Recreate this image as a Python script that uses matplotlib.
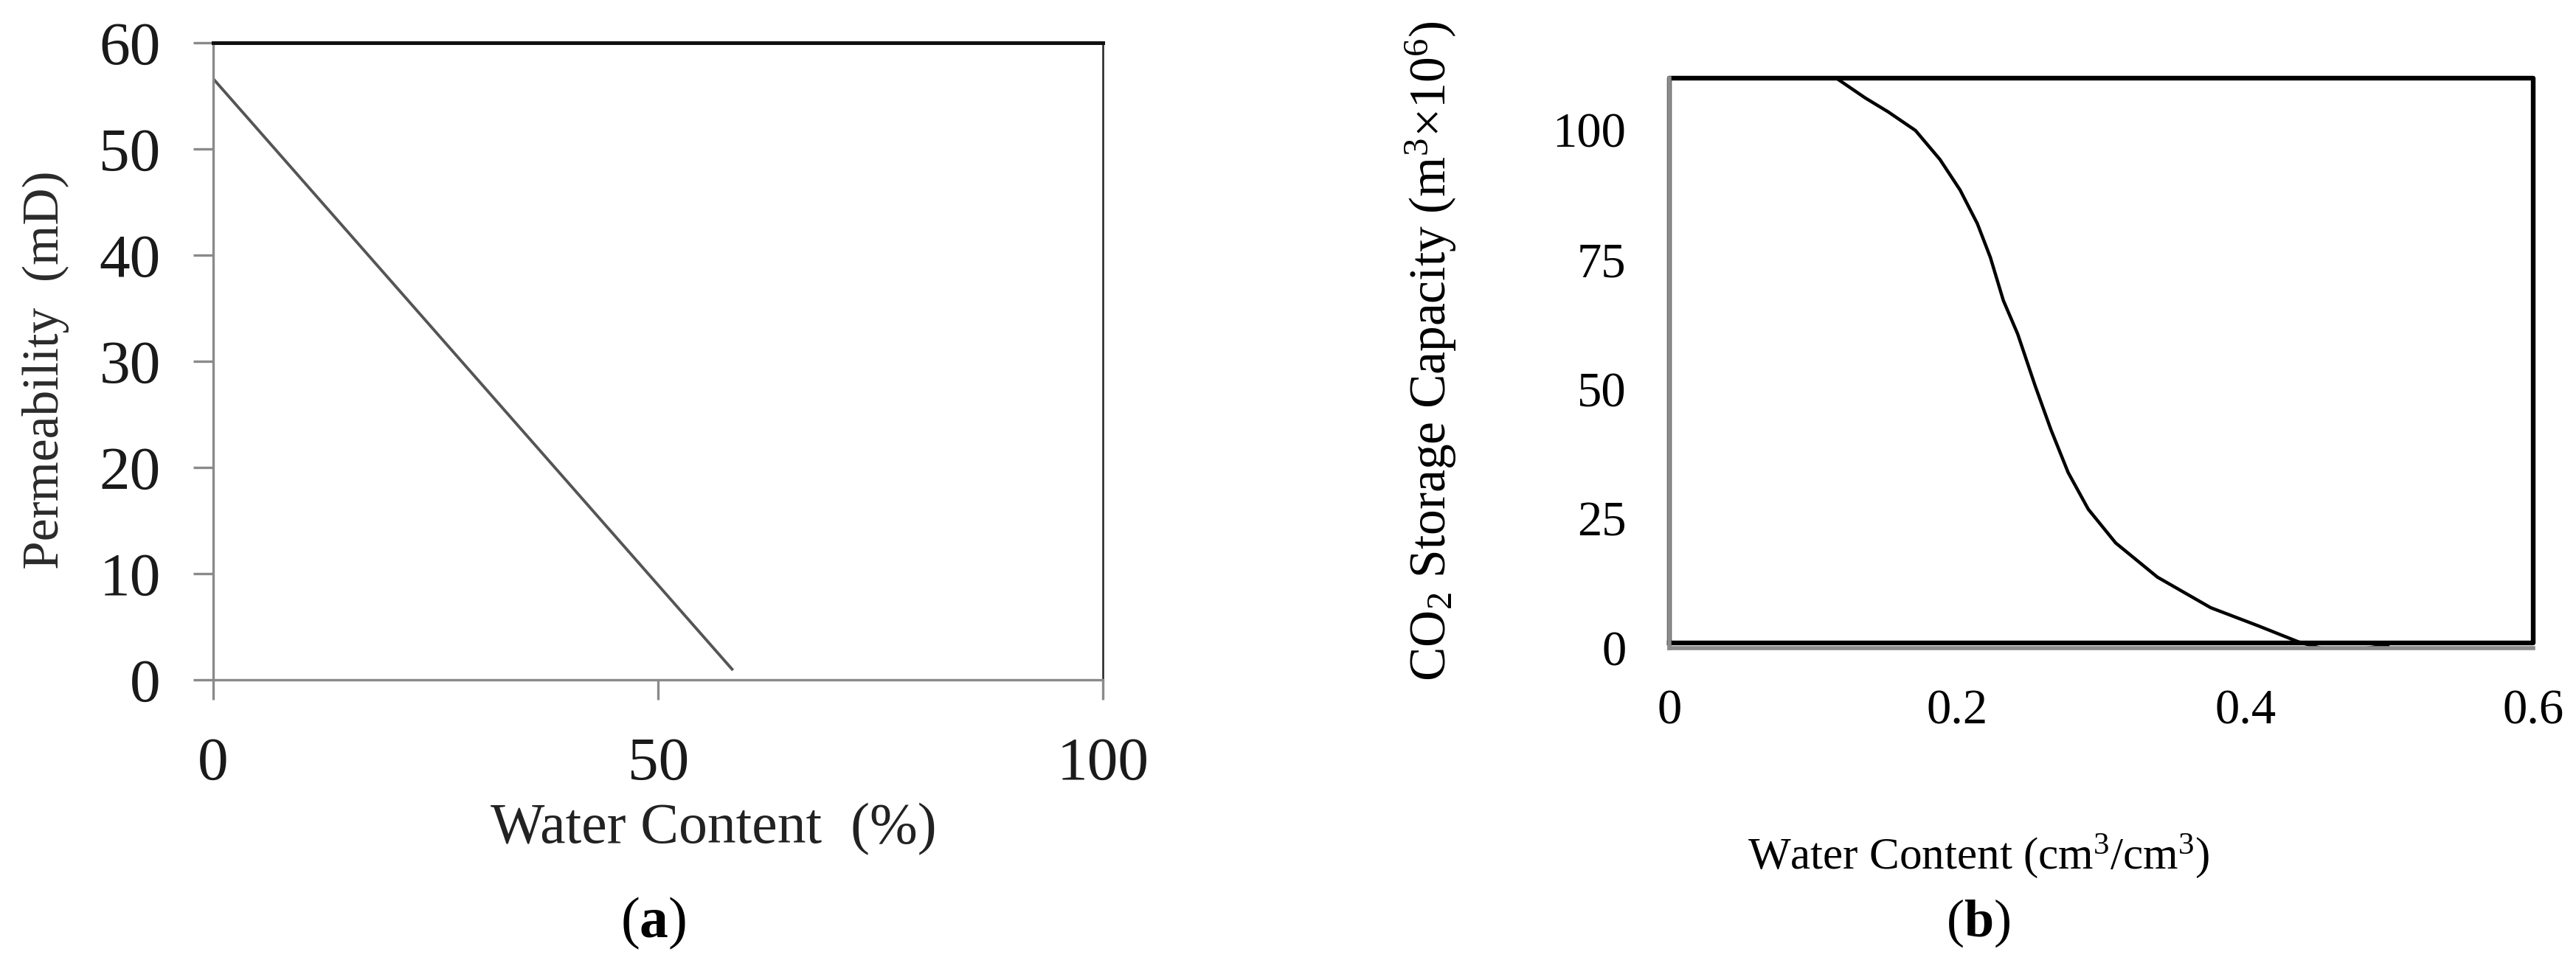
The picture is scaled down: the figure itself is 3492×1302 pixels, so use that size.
import matplotlib.pyplot as plt

plt.rcParams['font.family'] = ['Liberation Serif', 'DejaVu Serif']
plt.rcParams['mathtext.fontset'] = 'custom'
plt.rcParams['mathtext.rm'] = 'Liberation Serif'
plt.rcParams['mathtext.it'] = 'Liberation Serif:italic'
plt.rcParams['mathtext.bf'] = 'Liberation Serif:bold'

# (a) permeability vs water content
perm_x = [0, 58.3]
perm_y = [56.6, 1]
a_xticks = [0, 50, 100]
a_yticks = [0, 10, 20, 30, 40, 50, 60]

# (b) CO2 storage capacity vs water content
co2_x = [0.116, 0.136, 0.152, 0.171, 0.188, 0.202, 0.214, 0.223, 0.232, 0.242,
         0.254, 0.265, 0.277, 0.291, 0.310, 0.339, 0.376, 0.409, 0.437, 0.456,
         0.477, 0.499]
co2_y = [110, 106.2, 103.5, 99.9, 94.3, 88.4, 81.9, 75.4, 67.1, 60.6,
         50.7, 42.2, 33.9, 26.8, 20.3, 13.7, 7.8, 4.3, 1.2, -0.3,
         -0.3, 0.6]
b_xticks = [0, 0.2, 0.4, 0.6]
b_xticklabels = ['0', '0.2', '0.4', '0.6']
b_yticks = [0, 25, 50, 75, 100]

fig = plt.figure(figsize=(17.46, 6.51), dpi=200)

# ---- panel a ----
ax1 = fig.add_axes([0.0828, 0.2919, 0.3454, 0.6636])
ax1.plot(perm_x, perm_y, color='#555555', linewidth=1.4)
ax1.set_xlim(0, 100)
ax1.set_ylim(0, 60)
ax1.set_xticks(a_xticks)
ax1.set_yticks(a_yticks)
for s in ['left', 'bottom']:
    ax1.spines[s].set_color('#8a8a8a')
    ax1.spines[s].set_linewidth(1.2)
ax1.spines['top'].set_color('#111111')
ax1.spines['top'].set_linewidth(1.8)
ax1.spines['right'].set_color('#222222')
ax1.spines['right'].set_linewidth(0.9)
ax1.tick_params(direction='out', length=9.7, width=1.2, color='#8a8a8a',
                labelsize=30, labelcolor='#1a1a1a')
ax1.tick_params(axis='x', pad=18)
ax1.tick_params(axis='y', pad=16)
fig.text(0.0178, 0.615, 'Permeability  (mD)', rotation=90, ha='center',
         va='center', fontsize=25, color='#2a2a2a')
fig.text(0.277, 0.136, 'Water Content  (%)', ha='center', va='center',
         fontsize=28, color='#222222')
fig.text(0.2537, 0.038, r'($\mathbf{a}$)', ha='center', va='center',
         fontsize=28, color='black')

# ---- panel b ----
ax2 = fig.add_axes([0.648, 0.3249, 0.3354, 0.5937])
ax2.plot(co2_x, co2_y, color='black', linewidth=1.6)
ax2.set_xlim(0, 0.6)
ax2.set_ylim(0, 110)
ax2.set_xticks(b_xticks)
ax2.set_xticklabels(b_xticklabels)
ax2.set_yticks(b_yticks)
for s in ['top', 'right']:
    ax2.spines[s].set_visible(False)
for s in ['left', 'bottom']:
    ax2.spines[s].set_color('#8c8c8c')
    ax2.spines[s].set_linewidth(2.0)
ax2.tick_params(length=0, labelsize=24, labelcolor='black')
ax2.tick_params(axis='x', pad=20)
ax2.tick_params(axis='y', pad=21)
# black plot-area frame sitting just above the grey axis line
ax2.plot([0, 0.6, 0.6, 0, 0], [1.0, 1.0, 110, 110, 1.0], color='black',
         linewidth=2.3, clip_on=False, zorder=1)
fig.text(0.5556, 0.634, r'CO$_2$ Storage Capacity (m$^3$$\times$10$^6$)',
         rotation=90, ha='center', va='center', fontsize=25, color='black')
fig.text(0.768, 0.108, r'Water Content (cm$^3$/cm$^3$)', ha='center',
         va='center', fontsize=22, color='black')
fig.text(0.768, 0.038, r'($\mathbf{b}$)', ha='center', va='center',
         fontsize=26, color='black')

fig.savefig('out.png', dpi=200, facecolor='white')
